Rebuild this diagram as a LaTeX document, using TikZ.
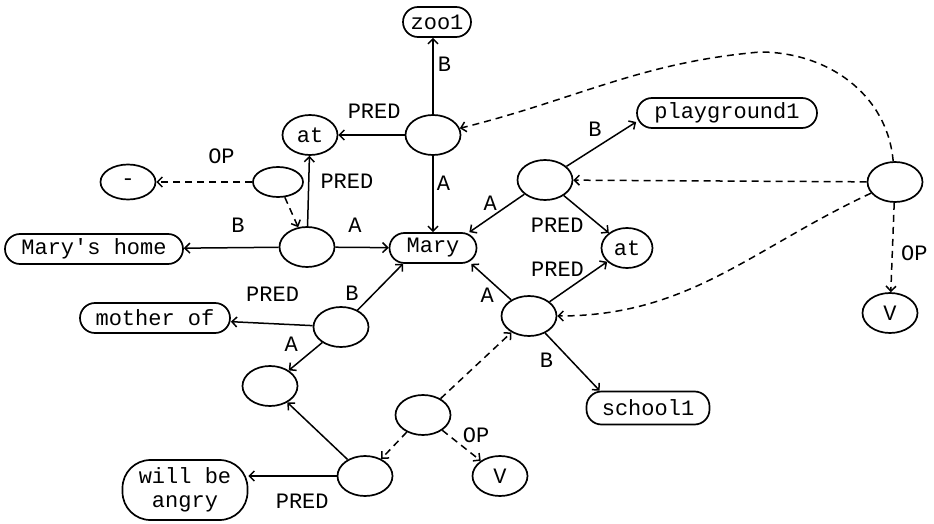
\documentclass[tikz,border=0pt]{standalone}
\usepackage{fontspec}
\newfontfamily\graphfont{Liberation Mono}
\usetikzlibrary{arrows.meta, positioning, shapes.geometric}

\begin{document}
\begin{tikzpicture}[
        x=1pt, y=-1pt,
        hub/.style={ellipse, draw, line width=1.7pt,
                    minimum width=55pt, minimum height=40pt, inner sep=0pt,
                    font=\graphfont\fontsize{22}{24}\selectfont},
        term/.style={rectangle, rounded corners=15pt, draw, line width=1.7pt,
                     minimum height=30pt, inner sep=0pt,
                     font=\graphfont\fontsize{22}{24}\selectfont},
        lbl/.style={inner sep=2pt, font=\graphfont\fontsize{22}{24}\selectfont},
        arrow/.style={-{Straight Barb[length=5pt, width=10pt]}, line width=1.5pt},
        dasharrow/.style={arrow, dash pattern=on 7pt off 5pt},
    ]
        \useasboundingbox (0,0) rectangle (934,524);

        \node[term, minimum width=68pt] (zoo) at (437,22) {zoo1};
        \node[hub] (hub1) at (433,135) {};
        \node[hub] (atU) at (310,135) {at};
        \node[hub, minimum height=35pt] (neg) at (128,182) {-};
        \node[hub, minimum width=50pt, minimum height=30pt] (opL) at (278,182) {};
        \node[hub] (hubML) at (307,247) {};
        \node[term, minimum width=178pt] (home) at (94,249) {Mary's home};
        \node[term, minimum width=87pt] (mary) at (433,248) {Mary};
        \node[hub] (hubR1) at (545,180) {};
        \node[term, minimum width=180pt] (play) at (727,113) {playground1};
        \node[hub, minimum width=51pt] (atR) at (627,248) {at};
        \node[hub] (farR) at (895,182) {};
        \node[hub] (vR) at (890,313) {V};
        \node[hub] (hubR2) at (529,316) {};
        \node[term, minimum width=123pt, minimum height=33pt] (school) at (648,408) {school1};
        \node[hub] (hubL2) at (341,327) {};
        \node[term, minimum width=150pt] (mother) at (155,318) {mother of};
        \node[hub] (emptyL) at (270,386) {};
        \node[hub] (midOp) at (423,415) {};
        \node[hub] (hubB) at (365,476) {};
        \node[term, minimum width=125pt, minimum height=60pt, rounded corners=28pt,
              align=center] (angry) at (185,490) {will be\\angry};
        \node[hub] (vB) at (500,476) {V};
        \coordinate (apex) at (760,52);

        % upper left
        \draw[arrow] (hub1) -- node[lbl, pos=.65, right=2pt] {B} (hub1 |- zoo.south);
        \draw[arrow] (hub1) -- node[lbl, pos=.46, above=14pt] {PRED} (atU);
        \draw[arrow] (hub1) -- node[lbl, pos=.36, right=1pt] {A} (mary);
        \draw[arrow] (hubML) -- node[lbl, pos=.64, right=9pt] {PRED} (atU);
        \draw[dasharrow] (opL) -- node[lbl, pos=.32, above=16pt] {OP} (neg);
        \draw[dasharrow] (opL) -- (hubML);
        \draw[arrow] (hubML) -- node[lbl, pos=.43, above=12pt] {B} (home);
        \draw[arrow] (hubML) -- node[lbl, pos=.37, above=12pt] {A} (mary);

        % right
        \draw[arrow] (hubR1) -- node[lbl, pos=.41, above=9pt] {B} ([yshift=-9pt]play.west);
        \draw[arrow] (hubR1) -- node[lbl, pos=.62, above=5pt] {A} ([xshift=-8pt]mary.north east);
        \draw[arrow] (hubR1) -- node[lbl, pos=.79, left=13pt] {PRED} (atR);
        \draw[arrow] (hubR2) -- node[lbl, pos=.8, left=9pt] {PRED} (atR);
        \draw[arrow] (hubR2) -- node[lbl, pos=.14, left=9pt] {A} ([xshift=-6pt]mary.south east);
        \draw[arrow] (hubR2) -- node[lbl, pos=.47, left=15pt] {B} ([xshift=14pt]school.north west);
        \draw[dasharrow] (farR) -- (hubR1);
        \draw[dasharrow] (farR) to[out=95, in=0] (apex) to[out=185, in=14] (hub1);
        \draw[dasharrow] (farR) to[out=205, in=0] (hubR2);
        \draw[dasharrow] (farR) -- node[lbl, pos=.56, right=6pt] {OP} (vR);

        % lower left
        \draw[arrow] (hubL2) -- node[lbl, pos=.37, left=13pt] {B} ([xshift=-30pt]mary.south);
        \draw[arrow] (hubL2) -- node[lbl, pos=.49, above=19pt] {PRED} (mother);
        \draw[arrow] (hubL2) -- node[lbl, pos=.05, left=20pt] {A} (emptyL);
        \draw[arrow] (hubB) -- (emptyL);
        \draw[arrow] (hubB) -- node[lbl, pos=.39, below=15pt] {PRED} (hubB -| angry.east);
        \draw[dasharrow] (midOp) -- (hubR2);
        \draw[dasharrow] (midOp) -- (hubB);
        \draw[dasharrow] (midOp) -- node[lbl, pos=.15, right=12pt] {OP} (vB);

    \end{tikzpicture}
\end{document}
